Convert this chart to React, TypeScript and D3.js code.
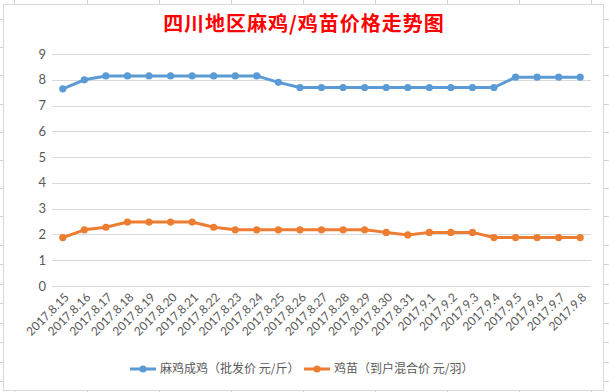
import React, { useEffect, useRef } from "react";
import * as d3 from "d3";

const dates = [
  "2017.8.15", "2017.8.16", "2017.8.17", "2017.8.18", "2017.8.19", "2017.8.20",
  "2017.8.21", "2017.8.22", "2017.8.23", "2017.8.24", "2017.8.25", "2017.8.26",
  "2017.8.27", "2017.8.28", "2017.8.29", "2017.8.30", "2017.8.31", "2017.9.1",
  "2017.9.2", "2017.9.3", "2017.9.4", "2017.9.5", "2017.9.6", "2017.9.7", "2017.9.8",
];

const adultChicken = [
  7.65, 8.0, 8.15, 8.15, 8.15, 8.15, 8.15, 8.15, 8.15, 8.15, 7.9, 7.7, 7.7,
  7.7, 7.7, 7.7, 7.7, 7.7, 7.7, 7.7, 7.7, 8.1, 8.1, 8.1, 8.1,
];

const chicks = [
  1.88, 2.18, 2.28, 2.48, 2.48, 2.48, 2.48, 2.28, 2.18, 2.18, 2.18, 2.18, 2.18,
  2.18, 2.18, 2.08, 1.98, 2.08, 2.08, 2.08, 1.88, 1.88, 1.88, 1.88, 1.88,
];

const yTicks = [0, 1, 2, 3, 4, 5, 6, 7, 8, 9];

const seriesNames = ["麻鸡成鸡（批发价 元/斤）", "鸡苗（到户混合价 元/羽）"];
const seriesColors = ["#5b9bd5", "#ed7d31"];

const title = "四川地区麻鸡/鸡苗价格走势图";

// spreadsheet grid stubs outside the chart
const sheetCols = [14, 87, 159, 231, 303, 375, 447, 519, 591];
const sheetRows = [19, 47, 75, 104, 132, 160, 188, 216, 245, 264, 284, 303, 323, 342, 362, 381];

const App = () => {
  const svgRef = useRef<SVGSVGElement>(null);

  useEffect(() => {
    const width = 609;
    const height = 392;
    const svg = d3.select(svgRef.current);
    svg.selectAll("*").remove();
    svg.attr("width", width).attr("height", height);

    svg.append("rect").attr("width", width).attr("height", height).attr("fill", "#fff");

    // sheet gridline stubs
    const frame = { x0: 3, y0: 4, x1: 603, y1: 390 };
    sheetCols.forEach((c) => {
      svg.append("line").attr("x1", c + 0.5).attr("x2", c + 0.5).attr("y1", 0).attr("y2", frame.y0)
        .attr("stroke", "#d4d4d4");
      svg.append("line").attr("x1", c + 0.5).attr("x2", c + 0.5).attr("y1", frame.y1).attr("y2", height)
        .attr("stroke", "#d4d4d4");
    });
    sheetRows.forEach((r) => {
      svg.append("line").attr("x1", 0).attr("x2", frame.x0).attr("y1", r + 0.5).attr("y2", r + 0.5)
        .attr("stroke", "#d4d4d4");
      svg.append("line").attr("x1", frame.x1).attr("x2", width).attr("y1", r + 0.5).attr("y2", r + 0.5)
        .attr("stroke", "#d4d4d4");
    });

    svg.append("rect")
      .attr("x", frame.x0 + 0.5).attr("y", frame.y0 + 0.5)
      .attr("width", frame.x1 - frame.x0).attr("height", frame.y1 - frame.y0)
      .attr("fill", "#fff").attr("stroke", "#d9d9d9");

    const x = d3.scaleBand().domain(dates).range([52, 591]);
    const y = d3.scaleLinear().domain([0, 9]).range([286, 54]);
    const cx = (d: string) => (x(d) ?? 0) + x.bandwidth() / 2;

    // title
    svg.append("text")
      .attr("x", 304).attr("y", 31)
      .attr("text-anchor", "middle")
      .style("font-family", "'Noto Sans CJK SC', sans-serif")
      .style("font-size", "20px")
      .style("font-weight", "700")
      .style("letter-spacing", "1px")
      .style("fill", "#ff0000")
      .text(title);

    // gridlines
    svg.append("g").selectAll("line").data(yTicks).enter().append("line")
      .attr("x1", 52).attr("x2", 591)
      .attr("y1", (d) => Math.round(y(d)) + 0.5).attr("y2", (d) => Math.round(y(d)) + 0.5)
      .attr("stroke", "#d9d9d9").attr("stroke-width", 1);

    // y labels
    svg.append("g").selectAll("text").data(yTicks).enter().append("text")
      .attr("x", 46).attr("y", (d) => y(d)).attr("dy", "0.35em")
      .attr("text-anchor", "end")
      .style("font-family", "Lato, sans-serif")
      .style("font-size", "13px")
      .style("fill", "#595959")
      .text((d) => d);

    // x labels
    svg.append("g").selectAll("text").data(dates).enter().append("text")
      .attr("transform", (d) => `translate(${cx(d) + 4},${295}) rotate(-45)`)
      .attr("text-anchor", "end")
      .attr("dy", "0.35em")
      .style("font-family", "Lato, sans-serif")
      .style("font-size", "12px")
      .style("fill", "#595959")
      .text((d) => d);

    const line = d3.line<number>()
      .x((_, i) => cx(dates[i]))
      .y((d) => y(d));

    [adultChicken, chicks].forEach((vals, si) => {
      const g = svg.append("g");
      g.append("path")
        .datum(vals)
        .attr("d", line)
        .attr("fill", "none")
        .attr("stroke", seriesColors[si])
        .attr("stroke-width", 3)
        .attr("stroke-linejoin", "round");
      g.selectAll("circle").data(vals).enter().append("circle")
        .attr("cx", (_, i) => cx(dates[i]))
        .attr("cy", (d) => y(d))
        .attr("r", 3.6)
        .attr("fill", seriesColors[si]);
    });

    // legend
    const legendY = 369;
    const legendX = [130, 304];
    seriesNames.forEach((name, i) => {
      const lg = svg.append("g").attr("transform", `translate(${legendX[i]},${legendY})`);
      lg.append("line").attr("x1", 0).attr("x2", 26).attr("y1", 0).attr("y2", 0)
        .attr("stroke", seriesColors[i]).attr("stroke-width", 3);
      lg.append("circle").attr("cx", 13).attr("cy", 0).attr("r", 3.6).attr("fill", seriesColors[i]);
      lg.append("text")
        .attr("x", 30).attr("y", 0).attr("dy", "0.36em")
        .style("font-family", "'Noto Sans CJK SC', sans-serif")
        .style("font-size", "12px")
        .style("fill", "#595959")
        .text(name);
    });
  }, []);

  return (
    <svg ref={svgRef} style={{ position: "absolute", left: 0, top: 0, display: "block" }}></svg>
  );
};

export default App;
